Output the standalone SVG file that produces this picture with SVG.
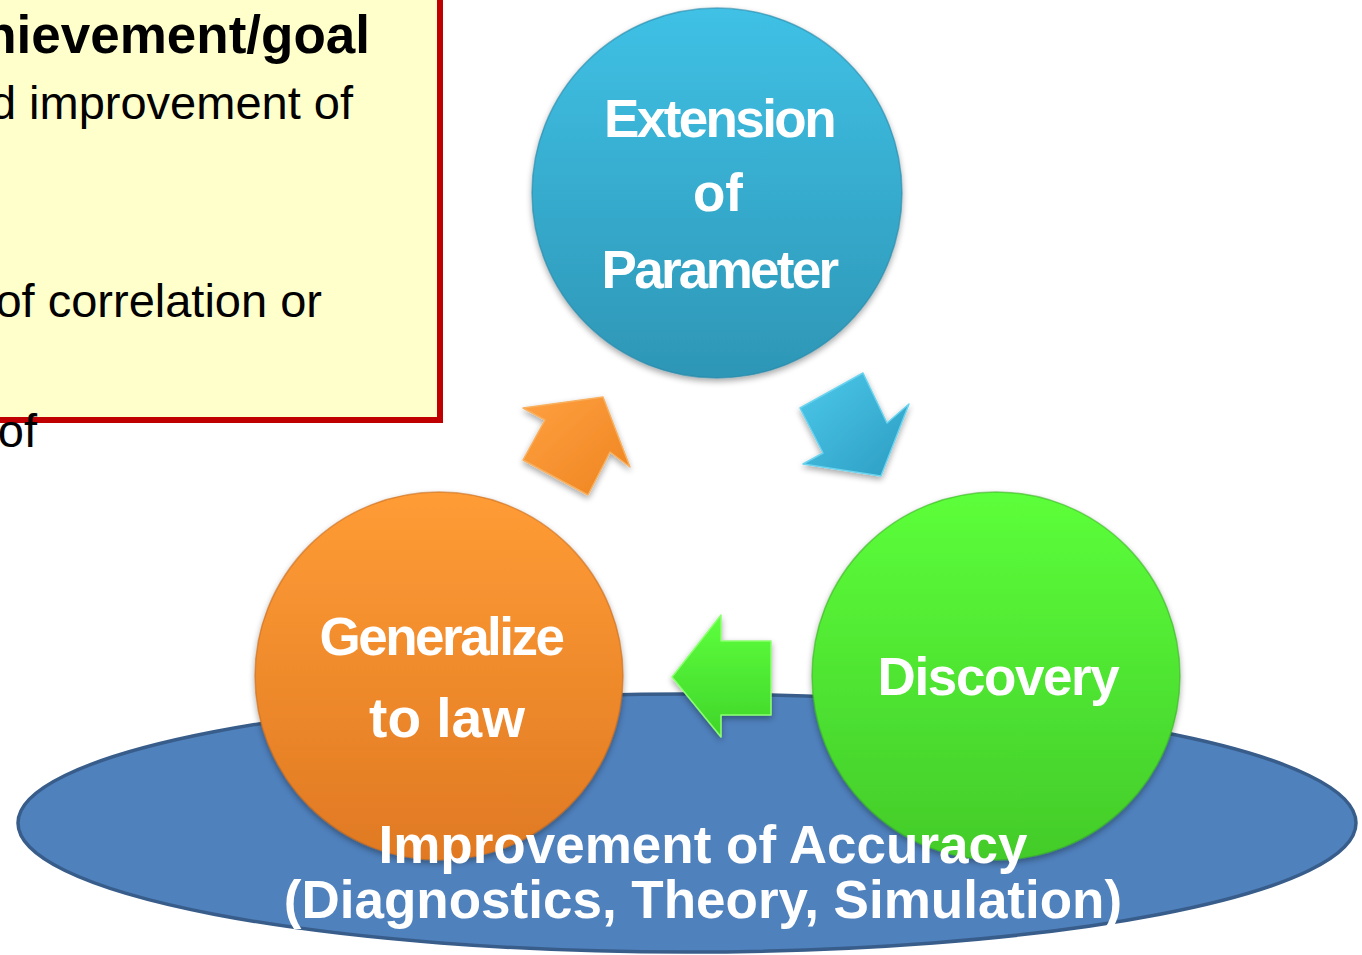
<svg xmlns="http://www.w3.org/2000/svg" width="1362" height="955" viewBox="0 0 1362 955">
  <defs>
    <linearGradient id="gBlue" x1="0" y1="0" x2="0" y2="1">
      <stop offset="0" stop-color="#3FC1E5"/>
      <stop offset="1" stop-color="#2E96B6"/>
    </linearGradient>
    <linearGradient id="gOrange" x1="0" y1="0" x2="0" y2="1">
      <stop offset="0" stop-color="#FF9C35"/>
      <stop offset="1" stop-color="#E07923"/>
    </linearGradient>
    <linearGradient id="gGreen" x1="0" y1="0" x2="0" y2="1">
      <stop offset="0" stop-color="#5CFF3A"/>
      <stop offset="1" stop-color="#43CB2A"/>
    </linearGradient>
    <linearGradient id="aOrange" x1="0" y1="0" x2="1" y2="1">
      <stop offset="0" stop-color="#FFA040"/>
      <stop offset="1" stop-color="#EE8420"/>
    </linearGradient>
    <linearGradient id="aBlue" x1="0" y1="0" x2="1" y2="1">
      <stop offset="0" stop-color="#4CC8EA"/>
      <stop offset="1" stop-color="#2C9DC2"/>
    </linearGradient>
    <linearGradient id="aGreen" x1="0" y1="0" x2="0" y2="1">
      <stop offset="0" stop-color="#5DFF3D"/>
      <stop offset="1" stop-color="#40D52A"/>
    </linearGradient>
    <filter id="soft" x="-20%" y="-20%" width="140%" height="140%">
      <feGaussianBlur in="SourceAlpha" stdDeviation="3"/>
      <feOffset dx="0" dy="3" result="b"/>
      <feComponentTransfer><feFuncA type="linear" slope="0.35"/></feComponentTransfer>
      <feMerge><feMergeNode/><feMergeNode in="SourceGraphic"/></feMerge>
    </filter>
  </defs>
  <style>
    .body { font-family: "Liberation Sans", Arial, sans-serif; font-size: 47px; fill: #000; }
    .head { font-family: "Liberation Sans", Arial, sans-serif; font-size: 53px; font-weight: bold; fill: #000; }
    .lbl { font-family: "Liberation Sans", Arial, sans-serif; font-weight: bold; fill: #fff; text-anchor: middle; }
    .rim { stroke-width: 1.5; stroke-opacity: 0.6; }
    .arrow { stroke-width: 1.5; stroke-linejoin: round; }
  </style>

  <rect width="1362" height="955" fill="#fff"/>

  <!-- goal box in the upper left, partly off the page -->
  <g id="goal-box">
    <rect x="-20" y="-20" width="460" height="440" fill="#FFFFCC" stroke="#C00000" stroke-width="6"/>
    <text class="head" x="370" y="53" text-anchor="end">hievement/goal</text>
    <text class="body" x="353" y="119" text-anchor="end">d improvement of</text>
    <text class="body" x="322" y="317" text-anchor="end">of correlation or</text>
    <text class="body" x="37" y="447" text-anchor="end">of</text>
  </g>

  <!-- base ellipse -->
  <g id="accuracy">
    <ellipse cx="687" cy="823" rx="669" ry="129" fill="#4F81BD" stroke="#385D8A" stroke-width="3.5"/>
  </g>

  <g id="extension" filter="url(#soft)">
    <circle cx="717" cy="193" r="185" fill="url(#gBlue)" class="rim" stroke="#2A87A6"/>
    <text class="lbl" x="719" y="137" font-size="53" letter-spacing="-2.6">Extension</text>
    <text class="lbl" x="718" y="211" font-size="53">of</text>
    <text class="lbl" x="719" y="288" font-size="53" letter-spacing="-2.7">Parameter</text>
  </g>

  <g id="generalize" filter="url(#soft)">
    <circle cx="439" cy="676" r="184" fill="url(#gOrange)" class="rim" stroke="#C86A1C"/>
    <text class="lbl" x="441" y="655" font-size="53" letter-spacing="-2.5">Generalize</text>
    <text class="lbl" x="447" y="737" font-size="55">to law</text>
  </g>

  <g id="discovery" filter="url(#soft)">
    <circle cx="996" cy="676" r="184" fill="url(#gGreen)" class="rim" stroke="#3AB024"/>
    <text class="lbl" x="998" y="695" font-size="53" letter-spacing="-1.4">Discovery</text>
  </g>

  <!-- cycle arrows -->
  <g id="connectors" filter="url(#soft)">
    <polygon class="arrow" fill="url(#aOrange)" stroke="#F7B060"
      points="603,397 630,467 610,452 588,495 523,460 545,420 523,408"/>
    <polygon class="arrow" fill="url(#aBlue)" stroke="#6BD3EE"
      points="863,373 887,423 909,404 881,476 803,464 823,453 800,408"/>
    <polygon class="arrow" fill="url(#aGreen)" stroke="#8CFF70"
      points="672,677 721,615 721,641 771,641 771,715 721,715 721,737"/>
  </g>

  <g id="accuracy-label">
    <text class="lbl" x="703" y="863" font-size="53">Improvement of Accuracy</text>
    <text class="lbl" x="703" y="918" font-size="53">(Diagnostics, Theory, Simulation)</text>
  </g>
</svg>
